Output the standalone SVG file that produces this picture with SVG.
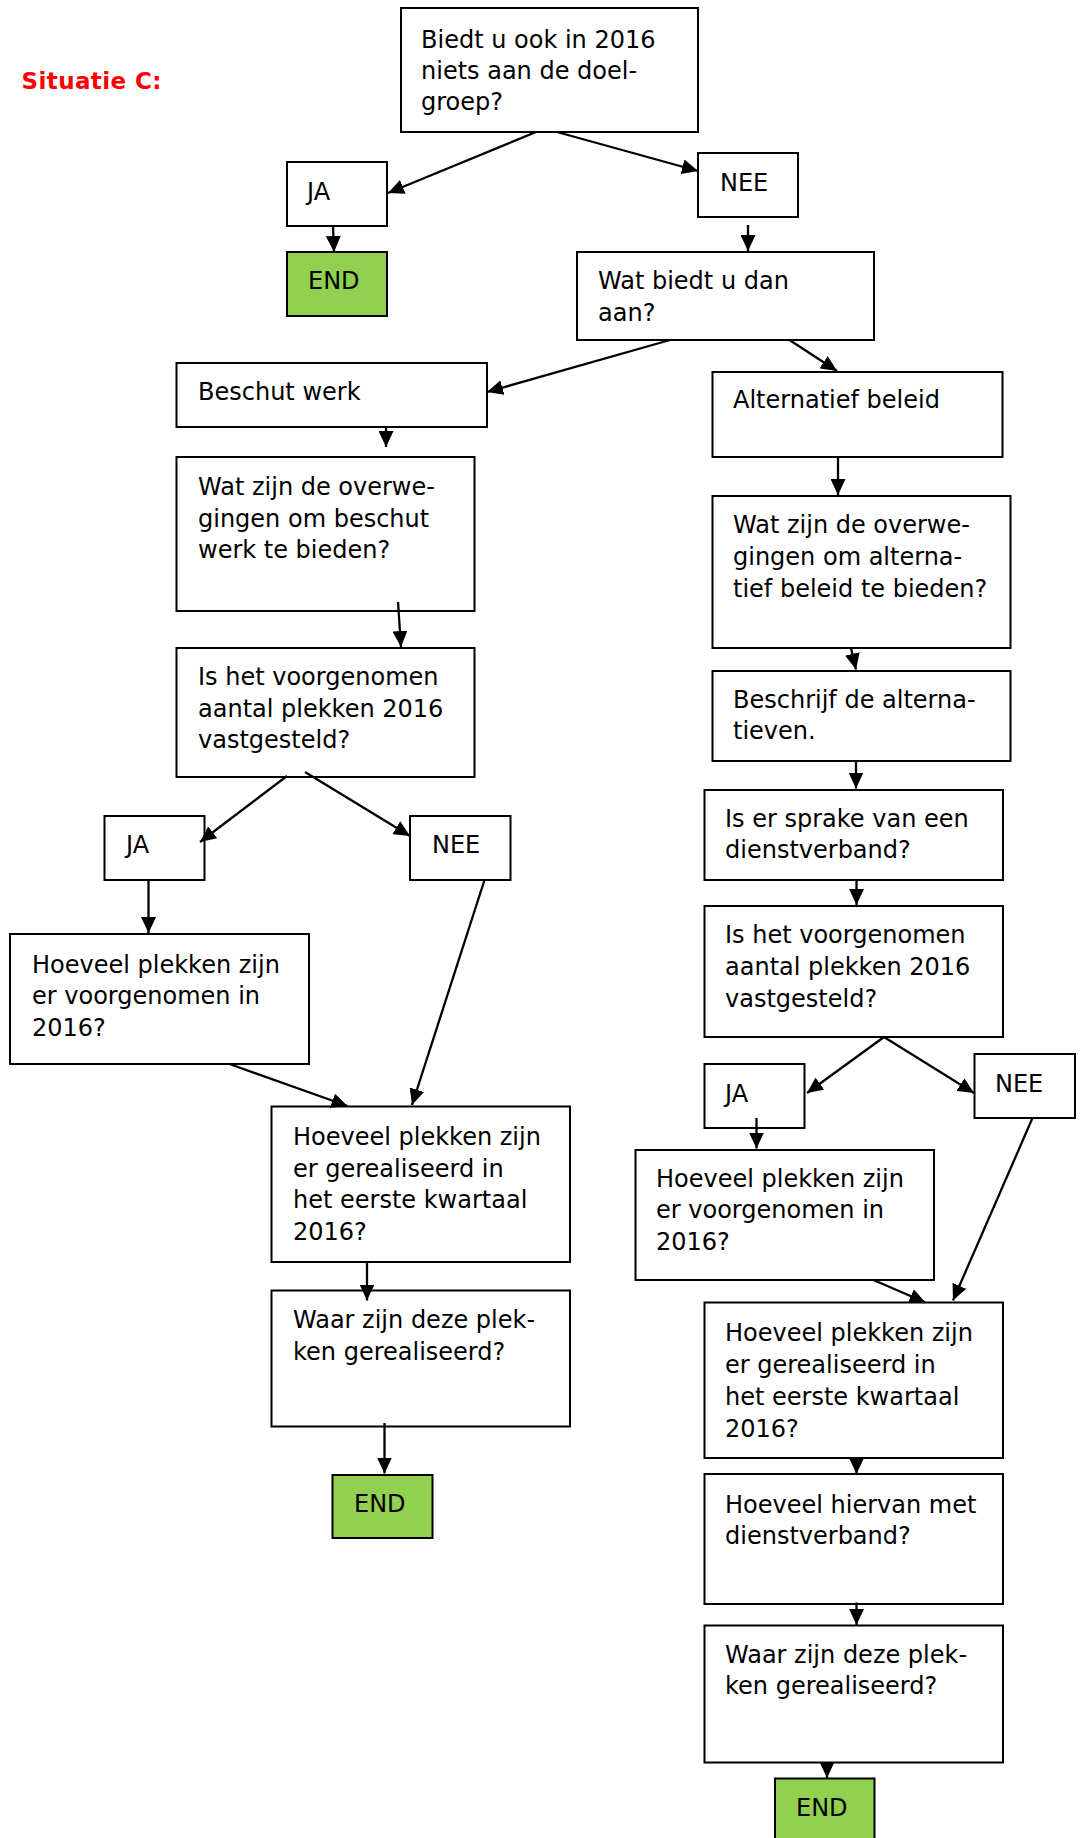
<svg xmlns="http://www.w3.org/2000/svg" width="1083" height="1838" viewBox="0 0 1083 1838">
<style>
.box{fill:#fff;stroke:#000;stroke-width:2}
.end{fill:#92D050;stroke:#000;stroke-width:2}
.t{font-family:"DejaVu Sans",Verdana,sans-serif;font-size:24px;fill:#000}
.title{font-family:"DejaVu Sans",Verdana,sans-serif;font-size:23px;font-weight:bold;fill:#FF0000;letter-spacing:0.4px}
.c{stroke:#000;stroke-width:2.3;fill:none;marker-end:url(#ah)}
</style>
<defs>
<marker id="ah" viewBox="0 0 16 15" refX="16" refY="7.5" markerWidth="16" markerHeight="15" markerUnits="userSpaceOnUse" orient="auto">
<path d="M0,0 L16,7.5 L0,15 z" fill="#000"/>
</marker>
</defs>
<rect width="1083" height="1838" fill="#fff"/>
<text class="title" x="21.5" y="89">Situatie C:</text>

<g id="q1"><rect class="box" x="401" y="8" width="297" height="124"/>
<text class="t"><tspan x="421" y="48">Biedt u ook in 2016</tspan><tspan x="421" y="79">niets aan de doel-</tspan><tspan x="421" y="110">groep?</tspan></text></g>
<g id="ja1"><rect class="box" x="287" y="162" width="100" height="64"/><text class="t" x="307" y="200">JA</text></g>
<g id="end1"><rect class="end" x="287" y="252" width="100" height="64"/><text class="t" x="308" y="289">END</text></g>
<g id="nee1"><rect class="box" x="698" y="153" width="100" height="64"/><text class="t" x="720" y="191">NEE</text></g>
<g id="q2"><rect class="box" x="577" y="252" width="297" height="88"/>
<text class="t"><tspan x="598" y="289">Wat biedt u dan</tspan><tspan x="598" y="321">aan?</tspan></text></g>
<g id="beschut"><rect class="box" x="176.5" y="363" width="310.5" height="64"/><text class="t" x="198" y="400">Beschut werk</text></g>
<g id="alt"><rect class="box" x="712.5" y="372" width="290" height="85"/><text class="t" x="733" y="408">Alternatief beleid</text></g>
<g id="wzL"><rect class="box" x="176.5" y="457" width="298" height="154"/>
<text class="t"><tspan x="198" y="495">Wat zijn de overwe-</tspan><tspan x="198" y="526.5">gingen om beschut</tspan><tspan x="198" y="558">werk te bieden?</tspan></text></g>
<g id="wzR"><rect class="box" x="712.5" y="496" width="298" height="152"/>
<text class="t"><tspan x="733" y="533">Wat zijn de overwe-</tspan><tspan x="733" y="565">gingen om alterna-</tspan><tspan x="733" y="597">tief beleid te bieden?</tspan></text></g>
<g id="beschrijf"><rect class="box" x="712.5" y="671" width="298" height="90"/>
<text class="t"><tspan x="733" y="708">Beschrijf de alterna-</tspan><tspan x="733" y="739">tieven.</tspan></text></g>
<g id="ihL"><rect class="box" x="176.5" y="648" width="298" height="129"/>
<text class="t"><tspan x="198" y="685">Is het voorgenomen</tspan><tspan x="198" y="717">aantal plekken 2016</tspan><tspan x="198" y="748">vastgesteld?</tspan></text></g>
<g id="sprake"><rect class="box" x="704.5" y="790" width="298.5" height="90"/>
<text class="t"><tspan x="725" y="827">Is er sprake van een</tspan><tspan x="725" y="858">dienstverband?</tspan></text></g>
<g id="jaL"><rect class="box" x="104.5" y="816" width="100" height="64"/><text class="t" x="126" y="853">JA</text></g>
<g id="neeL"><rect class="box" x="410" y="816" width="100.5" height="64"/><text class="t" x="432" y="853">NEE</text></g>
<g id="hvL"><rect class="box" x="10" y="934" width="299" height="130"/>
<text class="t"><tspan x="32" y="972.5">Hoeveel plekken zijn</tspan><tspan x="32" y="1004">er voorgenomen in</tspan><tspan x="32" y="1035.5">2016?</tspan></text></g>
<g id="ihR"><rect class="box" x="704.5" y="906" width="298.5" height="131"/>
<text class="t"><tspan x="725" y="943">Is het voorgenomen</tspan><tspan x="725" y="975">aantal plekken 2016</tspan><tspan x="725" y="1006.5">vastgesteld?</tspan></text></g>
<g id="jaR"><rect class="box" x="704.5" y="1064" width="100" height="64"/><text class="t" x="725" y="1101.5">JA</text></g>
<g id="neeR"><rect class="box" x="974.5" y="1054" width="100.5" height="64"/><text class="t" x="995" y="1091.5">NEE</text></g>
<g id="hgL"><rect class="box" x="271.5" y="1106.5" width="298.5" height="155.5"/>
<text class="t"><tspan x="293" y="1145">Hoeveel plekken zijn</tspan><tspan x="293" y="1176.5">er gerealiseerd in</tspan><tspan x="293" y="1208">het eerste kwartaal</tspan><tspan x="293" y="1240">2016?</tspan></text></g>
<g id="hvR"><rect class="box" x="635.5" y="1150" width="298.5" height="130"/>
<text class="t"><tspan x="656" y="1186.5">Hoeveel plekken zijn</tspan><tspan x="656" y="1218">er voorgenomen in</tspan><tspan x="656" y="1250">2016?</tspan></text></g>
<g id="waarL"><rect class="box" x="271.5" y="1290.5" width="298.5" height="136"/>
<text class="t"><tspan x="293" y="1328">Waar zijn deze plek-</tspan><tspan x="293" y="1360">ken gerealiseerd?</tspan></text></g>
<g id="endL"><rect class="end" x="332.5" y="1475" width="100" height="63"/><text class="t" x="354" y="1512">END</text></g>
<g id="hgR"><rect class="box" x="704.5" y="1302.5" width="298.5" height="155.5"/>
<text class="t"><tspan x="725" y="1341">Hoeveel plekken zijn</tspan><tspan x="725" y="1373">er gerealiseerd in</tspan><tspan x="725" y="1405">het eerste kwartaal</tspan><tspan x="725" y="1436.5">2016?</tspan></text></g>
<g id="hiervan"><rect class="box" x="704.5" y="1474" width="298.5" height="130"/>
<text class="t"><tspan x="725" y="1512.5">Hoeveel hiervan met</tspan><tspan x="725" y="1544">dienstverband?</tspan></text></g>
<g id="waarR"><rect class="box" x="704.5" y="1625.5" width="298.5" height="137"/>
<text class="t"><tspan x="725" y="1662.5">Waar zijn deze plek-</tspan><tspan x="725" y="1694">ken gerealiseerd?</tspan></text></g>
<g id="endR"><rect class="end" x="775" y="1778.5" width="99.5" height="64"/><text class="t" x="796" y="1816">END</text></g>

<g id="connectors">
<line class="c" x1="536" y1="132" x2="388" y2="193"/>
<line class="c" x1="557" y1="132" x2="698" y2="171"/>
<line class="c" x1="333" y1="226" x2="334" y2="252"/>
<line class="c" x1="748" y1="225" x2="748" y2="251"/>
<line class="c" x1="670" y1="340" x2="487" y2="392"/>
<line class="c" x1="789.5" y1="340" x2="837" y2="371"/>
<line class="c" x1="386" y1="427" x2="386" y2="447"/>
<line class="c" x1="398" y1="602" x2="401" y2="647"/>
<line class="c" x1="287" y1="776" x2="200" y2="842"/>
<line class="c" x1="305" y1="772" x2="410" y2="836"/>
<line class="c" x1="148.5" y1="880" x2="148.5" y2="933"/>
<line class="c" x1="484.5" y1="880" x2="412" y2="1105"/>
<line class="c" x1="229.5" y1="1064" x2="347.5" y2="1106"/>
<line class="c" x1="367" y1="1262" x2="367" y2="1300.5"/>
<line class="c" x1="384.5" y1="1423" x2="384.5" y2="1473.5"/>
<line class="c" x1="838" y1="457" x2="838" y2="495"/>
<line class="c" x1="851" y1="648" x2="856" y2="669.5"/>
<line class="c" x1="856" y1="761" x2="856" y2="788.5"/>
<line class="c" x1="856.5" y1="880" x2="856.5" y2="905"/>
<line class="c" x1="884" y1="1037" x2="807" y2="1093"/>
<line class="c" x1="884" y1="1037" x2="974" y2="1093"/>
<line class="c" x1="756.5" y1="1118" x2="756.5" y2="1148.5"/>
<line class="c" x1="1032.5" y1="1118" x2="953" y2="1300.5"/>
<line class="c" x1="873.5" y1="1280" x2="925.5" y2="1302.5"/>
<line class="c" x1="856.5" y1="1458" x2="856.5" y2="1474"/>
<line class="c" x1="856.5" y1="1602.5" x2="856.5" y2="1625"/>
<line class="c" x1="827" y1="1762" x2="827" y2="1778"/>
</g>
</svg>
